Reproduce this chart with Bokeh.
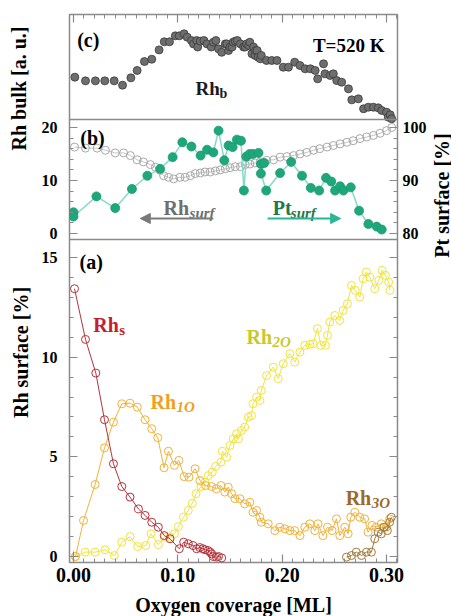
import math
from bokeh.plotting import figure
from bokeh.layouts import row
from bokeh.models import (Range1d, LinearAxis, FixedTicker, PrintfTickFormatter,
                          CustomJSTickFormatter, Label, Arrow, NormalHead, Span)
from bokeh.embed import file_html
from bokeh.resources import INLINE

# ---------------- data ----------------
# panel (c): Rh bulk [a.u.]
rhb_x = [0.0013, 0.0115, 0.021, 0.030, 0.039, 0.047, 0.055, 0.061, 0.068, 0.075,
         0.082, 0.087, 0.092, 0.0976, 0.1014, 0.106, 0.109, 0.113, 0.115, 0.118,
         0.119, 0.1215, 0.125, 0.128, 0.132, 0.134, 0.1365, 0.139, 0.142, 0.1455,
         0.147, 0.1486, 0.150, 0.152, 0.153, 0.155, 0.157, 0.160, 0.163, 0.1646,
         0.166, 0.168, 0.169, 0.171, 0.1725, 0.174, 0.1745, 0.176, 0.177, 0.179,
         0.180, 0.185, 0.190, 0.195, 0.201, 0.206, 0.212, 0.217, 0.222, 0.227,
         0.2316, 0.234, 0.2396, 0.241, 0.246, 0.249, 0.2523, 0.257, 0.2635, 0.2667,
         0.273, 0.278, 0.2826, 0.2874, 0.292, 0.2954, 0.300, 0.3017, 0.3035, 0.305]
rhb_y = [4.03, 3.68, 3.68, 3.68, 3.68, 3.27, 3.97, 4.67, 5.52, 5.74,
         6.63, 7.40, 7.40, 7.97, 7.97, 8.16, 7.84, 7.52, 7.20, 7.52,
         6.90, 7.46, 7.52, 7.20, 6.90, 7.36, 7.52, 6.73, 6.40, 7.20,
         7.20, 6.57, 6.90, 6.90, 7.36, 7.46, 7.52, 7.20, 6.90, 6.90,
         7.20, 7.05, 7.36, 6.26, 6.90, 6.10, 6.57, 6.57, 5.93, 5.78,
         6.10, 5.62, 5.62, 5.62, 4.98, 4.98, 5.46, 5.14, 4.83, 4.83,
         4.67, 3.87, 5.30, 4.35, 4.19, 4.35, 3.71, 3.55, 2.92, 1.87,
         1.97, 1.02, 1.17, 1.17, 1.11, 0.86, 0.70, 0.22, 0.45, 0.07]

# panel (b): Rh surface (left axis, %) and Pt surface (right axis, %)
rhsurf_x = [0.001, 0.0115, 0.0227, 0.0306, 0.040, 0.048, 0.0545, 0.061, 0.067, 0.0737,
            0.0785, 0.083, 0.0864, 0.091, 0.096, 0.102, 0.107, 0.112, 0.1167, 0.1215,
            0.126, 0.131, 0.136, 0.1407, 0.1455, 0.150, 0.155, 0.160, 0.1646, 0.169,
            0.174, 0.179, 0.185, 0.1917, 0.198, 0.2045, 0.211, 0.217, 0.2236, 0.230,
            0.236, 0.243, 0.249, 0.2555, 0.262, 0.268, 0.2746, 0.281, 0.2874, 0.2938,
            0.300, 0.305]
rhsurf_y = [16.3, 16.1, 16.1, 15.7, 15.2, 15.2, 14.7, 13.9, 13.5, 13.0,
            12.5, 11.9, 10.9, 10.6, 10.3, 10.6, 10.6, 10.9, 11.3, 11.4,
            11.6, 11.6, 11.8, 12.0, 12.2, 12.4, 12.6, 12.6, 13.0, 13.1,
            13.3, 13.5, 13.8, 13.9, 14.4, 14.5, 14.7, 15.0, 15.3, 15.7,
            16.0, 16.3, 16.6, 16.9, 17.2, 17.5, 17.9, 18.2, 18.5, 18.9,
            19.4, 20.0]
ptsurf_x = [0.000, 0.000, 0.022, 0.040, 0.056, 0.0708, 0.083, 0.095, 0.1043, 0.113,
            0.1218, 0.128, 0.134, 0.139, 0.1445, 0.1486, 0.1525, 0.1566, 0.1605, 0.1633,
            0.1656, 0.1688, 0.172, 0.1773, 0.1796, 0.1828, 0.1796, 0.1847, 0.198, 0.2086,
            0.219, 0.2274, 0.2354, 0.242, 0.247, 0.2507, 0.2555, 0.2587, 0.2657, 0.2737,
            0.2826, 0.2906, 0.2954]
ptsurf_y = [84.0, 83.2, 87.0, 84.8, 88.4, 90.9, 92.2, 94.4, 97.2, 96.4,
            94.7, 95.8, 95.3, 99.4, 93.8, 96.6, 96.3, 97.7, 97.5, 88.1,
            94.5, 95.0, 95.0, 95.2, 93.1, 93.3, 91.3, 88.1, 91.4, 93.5,
            90.9, 88.6, 88.1, 90.5, 89.8, 88.1, 88.9, 88.1, 88.7, 84.3,
            81.8, 81.3, 80.75]

# panel (a): Rh surface species [%]
rhs_x = [0.001, 0.0115, 0.0214, 0.0297, 0.0383, 0.0463, 0.0542, 0.0622, 0.0686, 0.075,
         0.0813, 0.087, 0.0925, 0.1014, 0.1056, 0.110, 0.1145, 0.118, 0.121, 0.124,
         0.126, 0.129, 0.131, 0.1325, 0.134, 0.137, 0.139, 0.142]
rhs_y = [13.43, 10.89, 9.2, 6.86, 4.65, 3.51, 2.98, 2.39, 2.06, 1.72,
         1.47, 1.05, 0.89, 0.39, 0.72, 0.64, 0.55, 0.39, 0.45, 0.39,
         0.34, 0.30, 0.22, 0.13, 0.0, -0.03, 0.0, -0.07]
rh1o_x = [0.002, 0.0096, 0.0207, 0.0297, 0.0383, 0.0463, 0.0542, 0.0612, 0.0686, 0.075,
          0.0807, 0.0868, 0.091, 0.0967, 0.101, 0.106, 0.1107, 0.1165, 0.1212, 0.1266,
          0.1324, 0.137, 0.1413, 0.145, 0.1483, 0.1515, 0.1547, 0.1595, 0.164, 0.169,
          0.172, 0.1755, 0.1786, 0.180, 0.1866, 0.193, 0.1978, 0.2026, 0.2074, 0.212,
          0.217, 0.2217, 0.2265, 0.2313, 0.2344, 0.239, 0.2434, 0.2478, 0.252, 0.2552,
          0.260, 0.2632, 0.2657, 0.2696, 0.2744, 0.279, 0.2823, 0.2861, 0.290, 0.295,
          0.2998, 0.303]
rh1o_y = [0.0, 1.81, 3.61, 5.45, 6.74, 7.66, 7.69, 7.49, 6.86, 6.41,
          5.96, 4.45, 5.28, 4.57, 4.82, 4.01, 3.98, 4.40, 3.81, 3.56,
          3.51, 3.40, 3.56, 3.23, 3.48, 3.15, 2.90, 2.90, 2.64, 2.72,
          2.22, 2.31, 1.97, 1.72, 1.64, 1.30, 1.47, 1.39, 1.30, 1.30,
          1.05, 1.47, 1.64, 1.30, 1.64, 1.05, 1.47, 1.30, 1.89, 1.05,
          1.47, 1.14, 1.97, 2.22, 1.97, 1.89, 1.22, 1.56, 1.47, 1.64,
          1.47, 1.89]
rh2o_x = [0.0016, 0.0112, 0.0207, 0.0303, 0.0392, 0.0463, 0.0542, 0.0615, 0.0692, 0.0743,
          0.0813, 0.087, 0.0925, 0.0967, 0.1005, 0.1053, 0.110, 0.1139, 0.1174, 0.1222,
          0.126, 0.1292, 0.133, 0.1362, 0.1413, 0.1426, 0.1467, 0.150, 0.1531, 0.1563,
          0.158, 0.161, 0.164, 0.1675, 0.1706, 0.172, 0.1755, 0.1786, 0.180, 0.185,
          0.1914, 0.1962, 0.201, 0.2074, 0.212, 0.217, 0.2217, 0.2265, 0.2297, 0.2338,
          0.237, 0.2414, 0.2434, 0.2456, 0.2504, 0.2552, 0.2584, 0.2625, 0.2664, 0.270,
          0.2744, 0.2775, 0.2807, 0.2839, 0.2887, 0.2925, 0.2957, 0.299, 0.302, 0.3033]
rh2o_y = [0.0, 0.22, 0.22, 0.34, 0.05, 0.72, 1.0, 0.5, 0.55, 1.14,
          0.6, 0.97, 0.97, 1.14, 1.5, 1.97, 2.31, 2.67, 3.15, 3.51,
          3.73, 4.06, 4.23, 4.52, 4.73, 5.28, 4.98, 5.57, 5.9, 6.16,
          5.9, 6.32, 6.49, 6.99, 7.07, 7.66, 7.99, 7.83, 8.33, 9.08,
          9.5, 8.92, 9.67, 10.17, 9.75, 10.25, 10.59, 10.64, 10.67, 11.43,
          10.59, 10.59, 11.09, 11.76, 12.09, 11.84, 12.34, 12.68, 13.6, 13.35,
          13.01, 13.93, 14.27, 14.01, 13.43, 13.85, 14.35, 14.1, 13.76, 13.35]
rh3o_x = [0.2616, 0.2664, 0.271, 0.276, 0.2807, 0.2855, 0.2887, 0.292, 0.295, 0.2976,
          0.3008, 0.303, 0.3046]
rh3o_y = [-0.03, 0.05, 0.22, 0.05, 0.22, 0.22, 0.89, 1.22, 1.14, 1.47,
          1.3, 1.72, 1.97]
origin_x = [0.0]
origin_y = [0.0]

x_major = [0.0, 0.1, 0.2, 0.3]
x_minor = [i / 100 for i in range(0, 32)]
a_major = [0, 5, 10, 15]
a_minor = list(range(0, 16))
b_major = [0, 10, 20]
b_minor = list(range(0, 22, 2))
pt_major = [80, 90, 100]
pt_minor = list(range(80, 102, 2))

# ---------------- layout / style ----------------
FONT = "Liberation Serif"
FRAME = "#8a8a8a"
TOTAL_H = 616
LEFT_W, RIGHT_W = 32, 23
FW, FH = 328, 548
TOP, BOTTOM = 14, 54
H_A, H_B, H_C = 323, 120, 105          # band heights (px) of panels a, b, c
A_LO, A_HI = -0.3, 15.9
B_LO, B_HI = -1.13, 21.5
C_LO, C_HI = 0.0, 10.0
PT_SHIFT = 80.0


def band_range(lo, hi, off, h):
    span = hi - lo
    return lo - span * off / h, hi + span * (FH - off - h) / h


main_lo, main_hi = band_range(A_LO, A_HI, 0, H_A)
b_lo, b_hi = band_range(B_LO, B_HI, H_A, H_B)
c_lo, c_hi = band_range(C_LO, C_HI, H_A + H_B, H_C)


def b_to_main(v):
    return main_lo + (v - b_lo) / (b_hi - b_lo) * (main_hi - main_lo)


p = figure(frame_width=FW, frame_height=FH,
           x_range=Range1d(-0.00383, 0.3105), y_range=Range1d(main_lo, main_hi),
           output_backend="svg", toolbar_location=None,
           x_axis_location=None, y_axis_location=None,
           min_border_left=69 - LEFT_W, min_border_right=451 - LEFT_W - 69 - FW - RIGHT_W,
           min_border_top=TOP, min_border_bottom=BOTTOM,
           background_fill_color="white", border_fill_color="white")
p.extra_y_ranges = {"b": Range1d(b_lo, b_hi),
                    "pt": Range1d(b_lo + PT_SHIFT, b_hi + PT_SHIFT),
                    "c": Range1d(c_lo, c_hi)}
p.outline_line_color = FRAME
p.outline_line_width = 1.5
p.xgrid.visible = False
p.ygrid.visible = False


def make_axis(ticker, font_size, standoff, formatter=None):
    ax = LinearAxis(ticker=ticker)
    if formatter is not None:
        ax.formatter = formatter
    ax.axis_line_color = None
    ax.major_tick_in = 8
    ax.major_tick_out = 0
    ax.minor_tick_in = 4
    ax.minor_tick_out = 0
    ax.major_tick_line_color = FRAME
    ax.minor_tick_line_color = FRAME
    ax.major_tick_line_width = 1.2
    ax.minor_tick_line_width = 1
    ax.major_label_text_font = FONT
    ax.major_label_text_font_style = "bold"
    ax.major_label_text_color = "black"
    ax.major_label_text_font_size = font_size
    ax.major_label_standoff = standoff
    ax.axis_label_text_font = FONT
    ax.axis_label_text_font_style = "bold"
    ax.axis_label_text_color = "black"
    return ax


split = A_HI
fmt_left = CustomJSTickFormatter(
    args=dict(split=split, m0=main_lo, m1=main_hi, b0=b_lo, b1=b_hi),
    code="""
    if (tick <= split) { return Math.round(tick).toString(); }
    const v = b0 + (tick - m0) / (m1 - m0) * (b1 - b0);
    return Math.round(v).toString();
    """)
fmt_right = CustomJSTickFormatter(
    args=dict(split=split, m0=main_lo, m1=main_hi, b0=b_lo + PT_SHIFT, b1=b_hi + PT_SHIFT),
    code="""
    if (tick <= split) { return ""; }
    const v = b0 + (tick - m0) / (m1 - m0) * (b1 - b0);
    return Math.round(v).toString();
    """)
fmt_blank = CustomJSTickFormatter(code="return '';")

left_ticks = FixedTicker(ticks=a_major + [b_to_main(v) for v in b_major],
                         minor_ticks=a_minor + [b_to_main(v) for v in b_minor])
right_ticks = FixedTicker(ticks=a_major + [b_to_main(v - PT_SHIFT) for v in pt_major],
                          minor_ticks=a_minor + [b_to_main(v - PT_SHIFT) for v in pt_minor])
p.add_layout(make_axis(left_ticks, "16px", 12, fmt_left), "left")
p.add_layout(make_axis(right_ticks, "16px", 5, fmt_right), "right")

top_ax = make_axis(FixedTicker(ticks=x_major, minor_ticks=x_minor), "1px", 0, fmt_blank)
p.add_layout(top_ax, "above")
bottom_ax = make_axis(FixedTicker(ticks=x_major, minor_ticks=x_minor), "20px", 5,
                      PrintfTickFormatter(format="%.2f"))
bottom_ax.axis_label = "Oxygen coverage [ML]"
bottom_ax.axis_label_text_font_size = "20px"
bottom_ax.axis_label_standoff = 9
p.add_layout(bottom_ax, "below")

# panel separators
p.add_layout(Span(location=A_HI, dimension="width", line_color=FRAME, line_width=1.5))
p.add_layout(Span(location=B_HI, dimension="width", line_color=FRAME, line_width=1.5,
                  y_range_name="b"))


def txt(fig, x, y, text, size, color="black", style="bold", rng="default", **kw):
    fig.add_layout(Label(x=x, y=y, text=text, text_font=FONT, text_font_style=style,
                         text_font_size=size, text_color=color, y_range_name=rng, **kw))


def sub_label(x, y, main, sub, color, size_main, size_sub, dx, dy, italic=True, rng="default"):
    txt(p, x, y, main, size_main, color, "bold", rng, text_baseline="alphabetic")
    txt(p, x, y, sub, size_sub, color, "bold italic" if italic else "bold", rng,
        text_baseline="alphabetic", x_offset=dx, y_offset=dy)


# ---------------- panel (c) ----------------
p.scatter(rhb_x, rhb_y, marker="circle", size=8, fill_color="#6e6e6e",
          line_color="#3a3a3a", line_width=0.8, y_range_name="c")
txt(p, 0.0035, 7.6, "(c)", "20px", rng="c", text_baseline="alphabetic")
txt(p, 0.298, 7.05, "T=520 K", "19px", rng="c", text_align="right", text_baseline="alphabetic")
sub_label(0.117, 2.95, "Rh", "b", "#1a1a1a", "19px", "14px", 24, -5, italic=False, rng="c")

# ---------------- panel (b) ----------------
p.line(rhsurf_x, rhsurf_y, line_color="#c4c4c4", line_width=1, y_range_name="b")
p.scatter(rhsurf_x, rhsurf_y, marker="circle", size=8, fill_color=None,
          line_color="#a8a8a8", line_width=1, y_range_name="b")
p.line(ptsurf_x, ptsurf_y, line_color="#86d9cb", line_width=1.5, y_range_name="pt")
p.scatter(ptsurf_x, ptsurf_y, marker="circle", size=9, fill_color="#1ea77b",
          line_color="#1a9a70", line_width=0.8, y_range_name="pt")
txt(p, 0.0065, 18.1, "(b)", "20px", rng="b", text_baseline="alphabetic")
sub_label(0.0863, 4.9, "Rh", "surf", "#6e6e6e", "20px", "15px", 26, -5, rng="b")
sub_label(0.191, 4.9, "Pt", "surf", "#1b7a4c", "20px", "15px", 18, -5, rng="b")
p.add_layout(Arrow(end=NormalHead(size=10, fill_color="#7a7a7a", line_color="#7a7a7a"),
                   x_start=0.134, y_start=2.83, x_end=0.064, y_end=2.83,
                   line_color="#7a7a7a", line_width=2, y_range_name="b"))
p.add_layout(Arrow(end=NormalHead(size=10, fill_color="#2bb597", line_color="#2bb597"),
                   x_start=0.186, y_start=2.83, x_end=0.256, y_end=2.83,
                   line_color="#2bb597", line_width=2, y_range_name="b"))

# ---------------- panel (a) ----------------
series = [
    (rh2o_x, rh2o_y, "#f1e43c"),
    (rh1o_x, rh1o_y, "#f1b23a"),
    (rhs_x, rhs_y, "#b3343c"),
    (rh3o_x, rh3o_y, "#a27a3c"),
]
for xs, ys, col in series:
    p.line(xs, ys, line_color=col, line_width=1)
    p.scatter(xs, ys, marker="circle", size=8, fill_color=None, line_color=col, line_width=1)
p.scatter(origin_x, origin_y, marker="cross", size=10, line_color="#a27a3c", line_width=1)

txt(p, 0.0058, 14.75, "(a)", "20px", text_baseline="alphabetic")
sub_label(0.019, 11.6, "Rh", "s", "#c4202e", "20px", "15px", 26, -5, italic=False)
sub_label(0.0738, 7.73, "Rh", "1O", "#f0a020", "20px", "15px", 26, -5)
sub_label(0.1659, 10.99, "Rh", "2O", "#c9c82a", "20px", "15px", 26, -5)
sub_label(0.2608, 2.96, "Rh", "3O", "#9b6a2a", "20px", "15px", 26, -5)


# ---------------- side strips holding the vertical axis titles ----------------
def strip(width):
    s = figure(frame_width=width, frame_height=TOTAL_H,
               x_range=Range1d(0, width), y_range=Range1d(0, TOTAL_H),
               output_backend="svg", toolbar_location=None,
               x_axis_location=None, y_axis_location=None,
               min_border_left=0, min_border_right=0, min_border_top=0, min_border_bottom=0,
               background_fill_color="white", border_fill_color="white")
    s.outline_line_color = None
    s.xgrid.visible = False
    s.ygrid.visible = False
    return s


left_strip = strip(LEFT_W)
txt(left_strip, 18.5, TOTAL_H - 74, "Rh bulk [a. u.]", "20px", angle=math.pi / 2,
    text_align="center", text_baseline="middle")
txt(left_strip, 20, TOTAL_H - 338, "Rh surface [%]", "20px", angle=math.pi / 2,
    text_align="center", text_baseline="middle")

right_strip = strip(RIGHT_W)
txt(right_strip, 12, TOTAL_H - 181, "Pt surface [%]", "20px", angle=math.pi / 2,
    text_align="center", text_baseline="middle")

layout = row(left_strip, p, right_strip)
open("out.html", "w").write(file_html(layout, INLINE))
